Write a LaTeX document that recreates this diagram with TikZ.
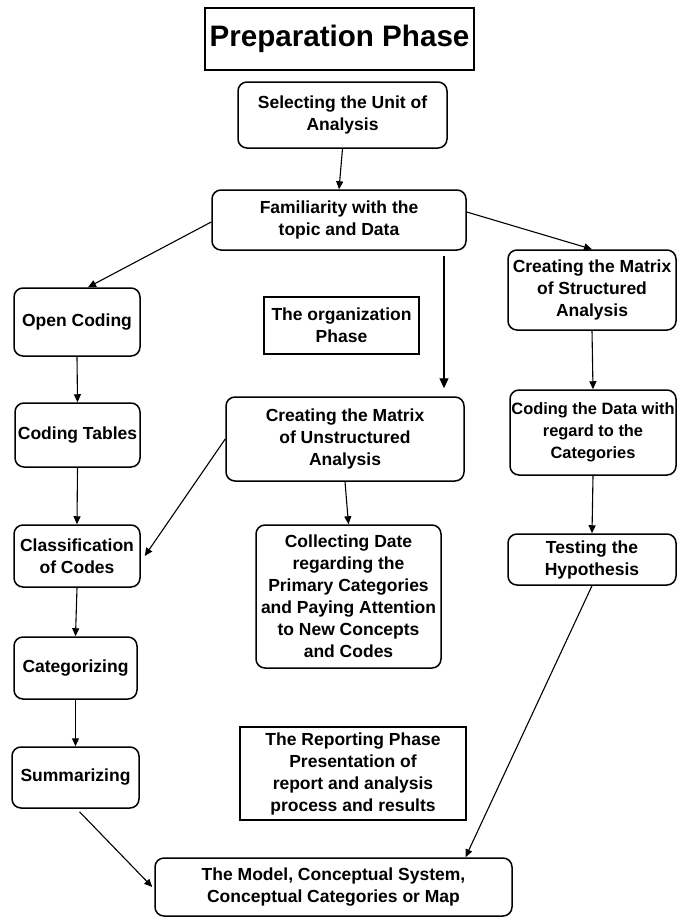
\documentclass[tikz,border=0pt]{standalone}
\usepackage{fontspec}
\setmainfont{Liberation Sans}
\usetikzlibrary{arrows.meta,calc}
\newcommand\boxfont{\fontsize{17.5}{22}\selectfont\bfseries}
\newcommand\tightfont{\fontsize{16.4}{22}\selectfont\bfseries}
\newcommand\titlefont{\fontsize{29.6}{34}\selectfont\bfseries}
\tikzset{
  stage/.style={draw, line width=1.5pt, rounded corners=9pt, align=center,
    inner sep=0pt, font=\boxfont},
  phasebox/.style={draw, line width=1.5pt, align=center, inner sep=0pt,
    font=\boxfont},
  flow/.style={line width=1.1pt, -{Triangle[length=8pt,width=7pt]}},
}
\begin{document}
\begin{tikzpicture}[x=1pt,y=-1pt]
\useasboundingbox[fill=white] (0,0) rectangle (678,918);

% phase labels
\node[phasebox, font=\titlefont, minimum width=269pt, minimum height=62pt] (prep) at (339.5,39) {Preparation Phase};
\node[phasebox, minimum width=155pt, minimum height=57pt] (org) at (341.5,325.5) {The organization\\Phase};
\node[phasebox, minimum width=226pt, minimum height=93pt] (report) at (353,773.5) {The Reporting Phase\\Presentation of\\report and analysis\\process and results};

% stages
\node[stage, minimum width=209pt, minimum height=66pt] (sel) at (342.5,115) {Selecting the Unit of\\Analysis};
\node[stage, minimum width=254pt, minimum height=60pt] (fam) at (339,220) {Familiarity with the\\topic and Data};
\node[stage, minimum width=126pt, minimum height=68pt] (open) at (77,322) {Open Coding};
\node[stage, minimum width=168pt, minimum height=80pt] (struct) at (592,290) {Creating the Matrix\\of Structured\\Analysis};
\node[stage, minimum width=125pt, minimum height=64pt] (ctab) at (77.5,435) {Coding Tables};
\node[stage, minimum width=238pt, minimum height=84pt] (unstr) at (345,439) {Creating the Matrix\\of Unstructured\\Analysis};
\node[stage, font=\tightfont, minimum width=166pt, minimum height=85pt] (cdata) at (593,432.5) {Coding the Data with\\regard to the\\Categories};
\node[stage, minimum width=126pt, minimum height=62pt] (class) at (77,556) {Classification\\of Codes};
\node[stage, minimum width=185pt, minimum height=143pt] (collect) at (348.5,596.5) {Collecting Date\\regarding the\\Primary Categories\\and Paying Attention\\to New Concepts\\and Codes};
\node[stage, minimum width=168pt, minimum height=51pt] (test) at (592,559.5) {Testing the\\Hypothesis};
\node[stage, minimum width=123pt, minimum height=62pt] (categ) at (75.5,668) {Categorizing};
\node[stage, minimum width=127pt, minimum height=61pt] (summ) at (75.5,777.5) {Summarizing};
\node[stage, minimum width=357pt, minimum height=58pt] (model) at (333.5,887) {The Model, Conceptual System,\\Conceptual Categories or Map};

% connectors
\draw[flow] (sel.south) -- (fam.north);
\draw[flow] ($(fam.west)+(0,2)$) -- ($(open.north)+(11,0)$);
\draw[flow] ($(fam.east)+(0,-8)$) -- (struct.north);
\draw[line width=1.1pt, -{Triangle[length=10pt,width=9pt]}] ($(fam.south)+(105,5)$) -- ($(unstr.north)+(99,-8)$);
\draw[flow] (open.south) -- (ctab.north);
\draw[flow] (ctab.south) -- (class.north);
\draw[flow] (unstr.west) -- ($(class.east)+(4,0)$);
\draw[flow] (unstr.south) -- (collect.north);
\draw[flow] (struct.south) -- (cdata.north);
\draw[flow] (cdata.south) -- (test.north);
\draw[flow] (class.south) -- (categ.north);
\draw[flow] (categ.south) -- (summ.north);
\draw[flow] ($(summ.south)+(4,3)$) -- ($(model.west)+(-2,0)$);
\draw[flow] (test.south) -- ($(model.north)+(132,0)$);
\end{tikzpicture}
\end{document}
